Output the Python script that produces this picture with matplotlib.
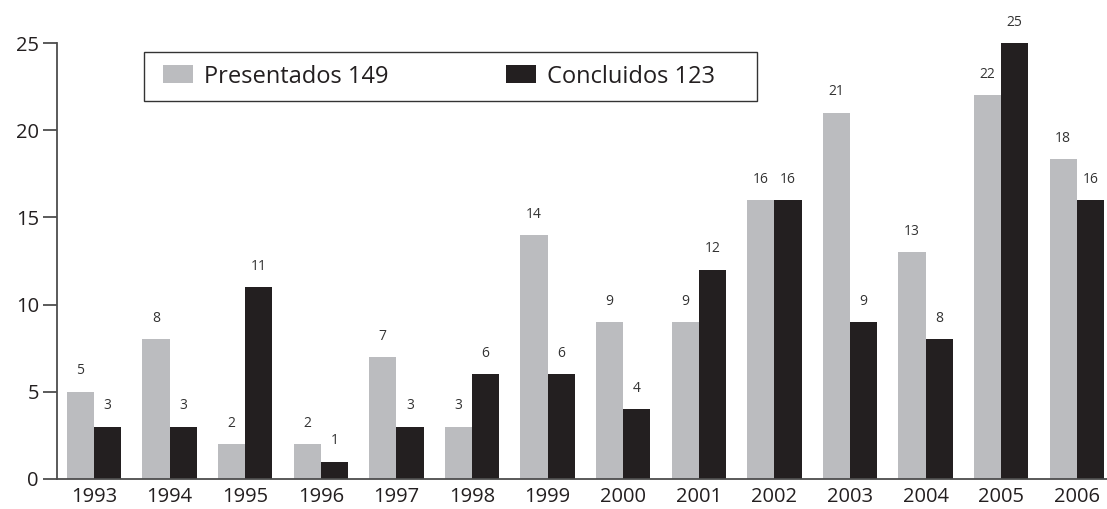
import numpy as np
import matplotlib
matplotlib.use('Agg')
import matplotlib.pyplot as plt
from matplotlib.patches import Rectangle

plt.rcParams['font.family'] = ['Open Sans', 'DejaVu Sans']

years = ['1993', '1994', '1995', '1996', '1997', '1998', '1999',
         '2000', '2001', '2002', '2003', '2004', '2005', '2006']
# bar heights as drawn (the 2006 grey bar sits a bit above 18 in the original)
presentados = [5, 8, 2, 2, 7, 3, 14, 9, 9, 16, 21, 13, 22, 18.35]
concluidos = [3, 3, 11, 1, 3, 6, 6, 4, 12, 16, 9, 8, 25, 16]
legend_labels = ['Presentados 149', 'Concluidos 123']

gray = '#bbbcbf'
black = '#231f20'
axis_col = '#4d4d4d'
text_col = '#231f20'

fig = plt.figure(figsize=(11.07, 5.09), dpi=100)
ax = fig.add_axes([57 / 1107, 30 / 509, 1050 / 1107, 436 / 509])

x = np.arange(len(years))
w = 0.36
b1 = ax.bar(x - w / 2, presentados, w, color=gray, label=legend_labels[0])
b2 = ax.bar(x + w / 2, concluidos, w, color=black, label=legend_labels[1])

for bars, vals in [(b1, presentados), (b2, concluidos)]:
    for r, v in zip(bars, vals):
        ax.annotate(str(int(round(v))), (r.get_x() + r.get_width() / 2, r.get_height()),
                    xytext=(0, 15), textcoords='offset points', ha='center', va='center',
                    fontsize=10, color='#333333')

ax.set_xlim(-0.489, 13.4)
ax.set_ylim(0, 25)
ax.set_yticks([0, 5, 10, 15, 20, 25])
ax.set_xticks(x)
ax.set_xticklabels(years)

for s in ['top', 'right']:
    ax.spines[s].set_visible(False)
for s in ['left', 'bottom']:
    ax.spines[s].set_color(axis_col)
    ax.spines[s].set_linewidth(1.3)
ax.tick_params(axis='y', length=10, width=1.3, color=axis_col, pad=3,
               labelsize=14.5, labelcolor=text_col)
ax.tick_params(axis='x', length=0, pad=6, labelsize=14.5, labelcolor=text_col)

# legend frame drawn by hand, entries without frame
x0 = (144 - 57) / 1050
x1 = (757 - 57) / 1050
y0 = (479 - 101) / 436
y1 = (479 - 52) / 436
ax.add_patch(Rectangle((x0, y0), x1 - x0, y1 - y0, transform=ax.transAxes,
                       facecolor='white', edgecolor='#333333', linewidth=1.0,
                       zorder=5, clip_on=False))
leg = ax.legend(ncol=2, frameon=False, loc='center left',
                bbox_to_anchor=(x0 + 19 / 1050, (y0 + y1) / 2), borderaxespad=0,
                borderpad=0, fontsize=17, handlelength=1.27, handleheight=0.8,
                handletextpad=0.45, columnspacing=5.0)
leg.set_zorder(6)
for t in leg.get_texts():
    t.set_color(text_col)

fig.savefig('out.png', dpi=100)
